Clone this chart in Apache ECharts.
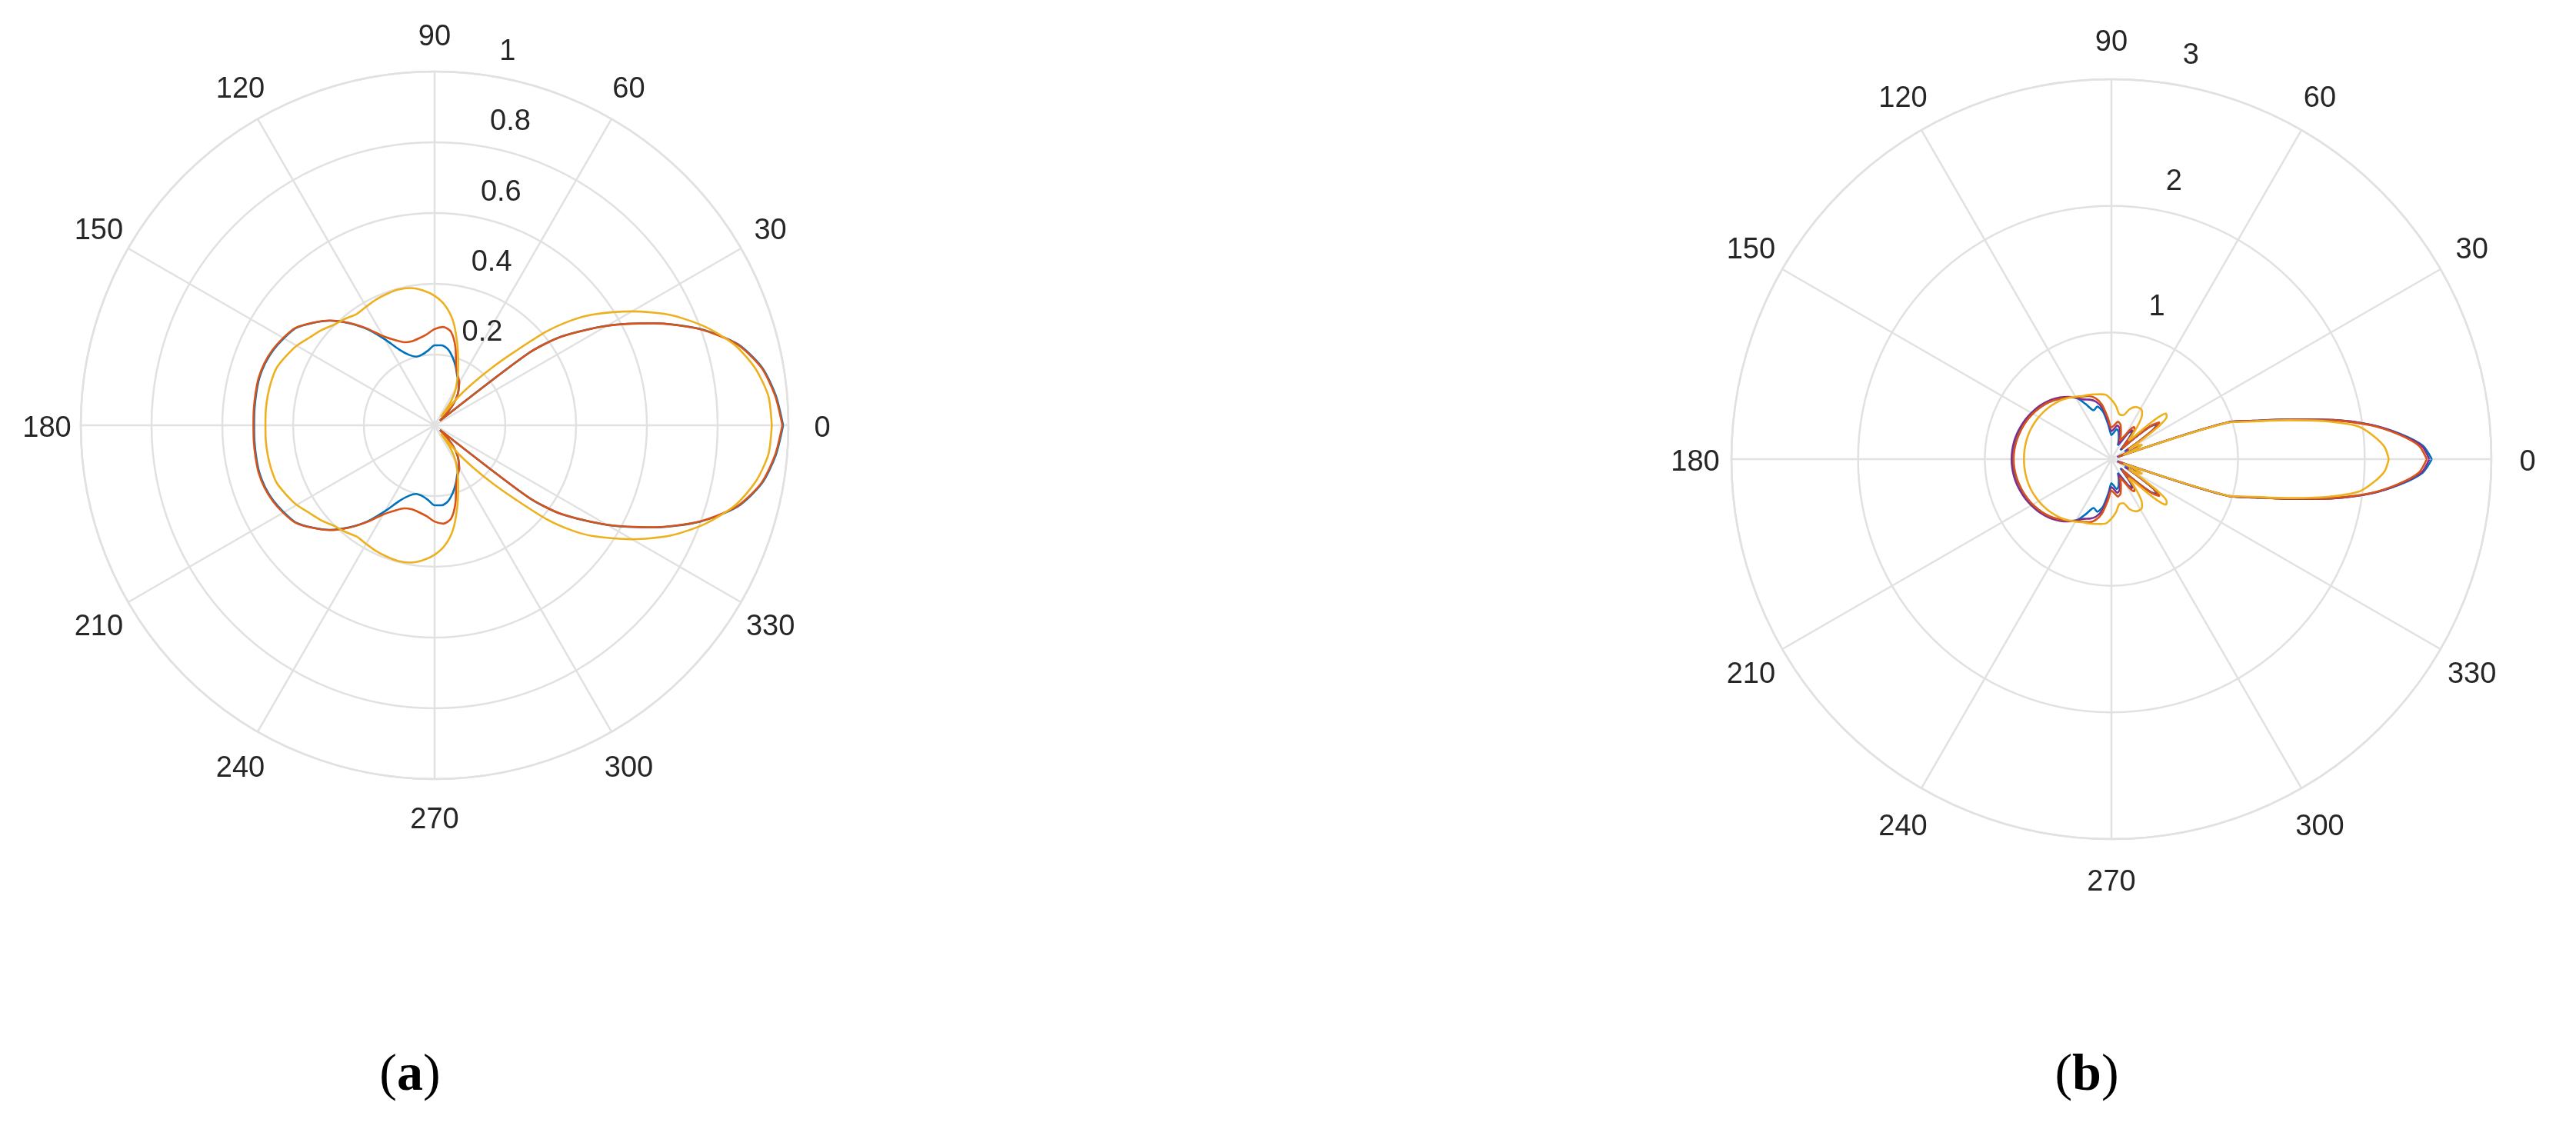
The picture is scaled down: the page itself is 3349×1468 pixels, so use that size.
<!DOCTYPE html>
<html>
<head>
<meta charset="utf-8">
<script src="https://cdn.jsdelivr.net/npm/echarts@6/dist/echarts.min.js"></script>
<style>
html,body{margin:0;padding:0;background:#ffffff;}
#chart{width:3349px;height:1468px;}
</style>
</head>
<body>
<div id="chart"></div>
<script>
// ---------- DATA (upper half, 0..180 deg; patterns are symmetric about 0 deg) ----------
// Panel (a): radial range 0..1
const aAngles = [0,5,10,15,20,25,30,35,37.5,40,42.5,45,47.5,50,52.5,55,57.5,60,65,70,75,80,85,90,95,100,105,110,115,120,125,130,135,140,145,150,155,160,165,170,175,180];
const aBlue   = [0.985,0.968,0.940,0.887,0.797,0.683,0.563,0.438,0.335,0.020,0.025,0.050,0.072,0.090,0.105,0.117,0.127,0.137,0.152,0.175,0.198,0.218,0.227,0.226,0.212,0.203,0.201,0.212,0.236,0.280,0.332,0.377,0.418,0.450,0.479,0.492,0.503,0.510,0.513,0.512,0.511,0.510];
const aRed    = [0.983,0.966,0.938,0.885,0.796,0.682,0.562,0.437,0.334,0.020,0.025,0.050,0.072,0.090,0.105,0.117,0.128,0.140,0.155,0.178,0.228,0.268,0.279,0.272,0.258,0.250,0.246,0.250,0.266,0.291,0.334,0.378,0.419,0.451,0.480,0.494,0.505,0.512,0.515,0.514,0.513,0.512];
const aYellow = [0.953,0.947,0.921,0.878,0.814,0.737,0.644,0.546,0.487,0.412,0.310,0.233,0.165,0.105,0.030,0.075,0.100,0.120,0.155,0.195,0.245,0.300,0.340,0.366,0.383,0.394,0.397,0.395,0.392,0.387,0.384,0.393,0.402,0.418,0.432,0.450,0.463,0.475,0.478,0.479,0.479,0.478];

// Panel (b): radial range 0..3
const bAngles = [0,2.5,5,7.5,10,12.5,15,17.5,20,22.5,25,27.5,30,32.5,35,37.5,40,42.5,45,47.5,50,52.5,55,57.5,60,65,70,75,80,85,90,95,100,105,110,115,120,125,130,135,140,145,150,155,160,165,170,175,180];
const bBlue   = [2.53,2.46,2.29,2.07,1.78,1.45,1.17,0.97,0.05,0.15,0.22,0.21,0.12,0.24,0.40,0.46,0.40,0.24,0.10,0.14,0.21,0.26,0.27,0.24,0.18,0.12,0.17,0.22,0.24,0.21,0.19,0.27,0.38,0.43,0.41,0.48,0.56,0.595,0.625,0.655,0.68,0.70,0.72,0.735,0.748,0.758,0.768,0.774,0.776];
const bRed    = [2.49,2.43,2.27,2.06,1.77,1.44,1.16,0.96,0.06,0.18,0.25,0.24,0.15,0.25,0.41,0.48,0.42,0.27,0.12,0.17,0.26,0.30,0.31,0.28,0.22,0.16,0.22,0.28,0.30,0.27,0.25,0.33,0.44,0.50,0.53,0.545,0.565,0.595,0.623,0.652,0.678,0.698,0.717,0.732,0.745,0.755,0.764,0.770,0.772];
const bYellow = [2.19,2.16,2.08,1.97,1.72,1.42,1.15,0.95,0.10,0.20,0.27,0.24,0.16,0.30,0.47,0.55,0.56,0.45,0.25,0.20,0.28,0.36,0.42,0.45,0.46,0.455,0.42,0.36,0.36,0.42,0.47,0.51,0.52,0.53,0.54,0.55,0.57,0.59,0.61,0.625,0.64,0.652,0.663,0.672,0.68,0.685,0.688,0.69,0.69];
const bPurple = [2.51,2.45,2.28,2.07,1.78,1.45,1.17,0.97,0.05,0.16,0.23,0.22,0.13,0.24,0.40,0.47,0.41,0.25,0.11,0.15,0.22,0.27,0.28,0.25,0.19,0.13,0.19,0.25,0.27,0.24,0.22,0.30,0.41,0.47,0.50,0.52,0.56,0.60,0.635,0.665,0.69,0.712,0.73,0.747,0.76,0.772,0.781,0.786,0.788];

// Axes / ticks
const angleStep = 30;
const aRadiusMax = 1, aRadiusStep = 0.2;
const bRadiusMax = 3, bRadiusStep = 1;
const captions = ['a', 'b'];

// ---------- STYLE ----------
const FONT = '"Liberation Sans", Arial, Helvetica, sans-serif';
const SERIF = '"Liberation Serif", "Times New Roman", serif';
const GRID = '#e1e1e1';
const TXT = '#262626';
const COLORS = { blue: '#0072BD', red: '#D95319', yellow: '#EDB120', purple: '#7E2F8E' };

// reflect the half pattern to a closed curve ([radius, angle] pairs)
function closedCurve(angles, radii) {
  const pts = angles.map((a, i) => [radii[i], a]);
  for (let i = angles.length - 2; i >= 0; i--) pts.push([radii[i], 360 - angles[i]]);
  return pts;
}

function dataAngleAxis(idx, margin) {
  return {
    polarIndex: idx, type: 'value', min: 0, max: 360, interval: angleStep,
    startAngle: 0, clockwise: false,
    axisLine: { show: true, lineStyle: { color: GRID, width: 2.5 } },
    axisTick: { show: false },
    splitLine: { show: true, lineStyle: { color: GRID, width: 2.5 } },
    axisLabel: {
      show: true, margin: margin, padding: [10, 0, 0, 0],
      formatter: v => (v >= 360 ? '' : '{t|' + v + '}'),
      rich: { t: { width: 2, height: 2, lineHeight: 2, align: 'center', verticalAlign: 'middle',
                   fontSize: 38, fontFamily: FONT, color: TXT } }
    }
  };
}
function dataRadiusAxis(idx, max, step) {
  return {
    polarIndex: idx, type: 'value', min: 0, max: max, interval: step,
    axisLine: { show: false }, axisTick: { show: false }, axisLabel: { show: false },
    splitLine: { show: true, lineStyle: { color: GRID, width: 2.5 } }
  };
}
function labelAngleAxis(idx, start) {
  return { polarIndex: idx, type: 'value', min: 0, max: 360, startAngle: start, show: false };
}
function labelRadiusAxis(idx, max, step) {
  return {
    polarIndex: idx, type: 'value', min: 0, max: max, interval: step,
    axisLine: { show: false }, axisTick: { show: false }, splitLine: { show: false },
    axisLabel: {
      show: true, margin: 0, align: 'left', verticalAlign: 'middle',
      fontSize: 38, fontFamily: FONT, color: TXT,
      formatter: v => (v === 0 ? '' : String(Math.round(v * 10) / 10))
    }
  };
}
function lineSeries(name, idx, angles, radii, color) {
  return {
    name: name, type: 'line', coordinateSystem: 'polar', polarIndex: idx,
    data: closedCurve(angles, radii), showSymbol: false, smooth: 0.25,
    lineStyle: { color: color, width: 2.6 }, silent: true
  };
}

const option = {
  backgroundColor: '#ffffff',
  animation: false,
  title: captions.map((c, i) => ({
    text: '({b|' + c + '})',
    left: i === 0 ? 528 : 2708, top: 1360, textAlign: 'center',
    textStyle: { fontFamily: SERIF, fontSize: 68, fontWeight: 'normal', color: '#000',
      rich: { b: { fontFamily: SERIF, fontSize: 68, fontWeight: 'bold', color: '#000' } } }
  })),
  polar: [
    { center: [565, 553], radius: 460 },
    { center: [2745, 597], radius: 494 },
    { center: [588.4, 523.6], radius: 460 },
    { center: [2771.5, 562.4], radius: 494 }
  ],
  angleAxis: [
    dataAngleAxis(0, 43),
    dataAngleAxis(1, 46),
    labelAngleAxis(2, 82.4),
    labelAngleAxis(3, 82.3)
  ],
  radiusAxis: [
    dataRadiusAxis(0, aRadiusMax, aRadiusStep),
    dataRadiusAxis(1, bRadiusMax, bRadiusStep),
    labelRadiusAxis(2, aRadiusMax, aRadiusStep),
    labelRadiusAxis(3, bRadiusMax, bRadiusStep)
  ],
  series: [
    lineSeries('a1', 0, aAngles, aBlue, COLORS.blue),
    lineSeries('a2', 0, aAngles, aRed, COLORS.red),
    lineSeries('a3', 0, aAngles, aYellow, COLORS.yellow),
    lineSeries('b1', 1, bAngles, bBlue, COLORS.blue),
    lineSeries('b4', 1, bAngles, bPurple, COLORS.purple),
    lineSeries('b2', 1, bAngles, bRed, COLORS.red),
    lineSeries('b3', 1, bAngles, bYellow, COLORS.yellow)
  ]
};

const chart = echarts.init(document.getElementById('chart'), null, { renderer: 'canvas' });
chart.setOption(option);
</script>
</body>
</html>
